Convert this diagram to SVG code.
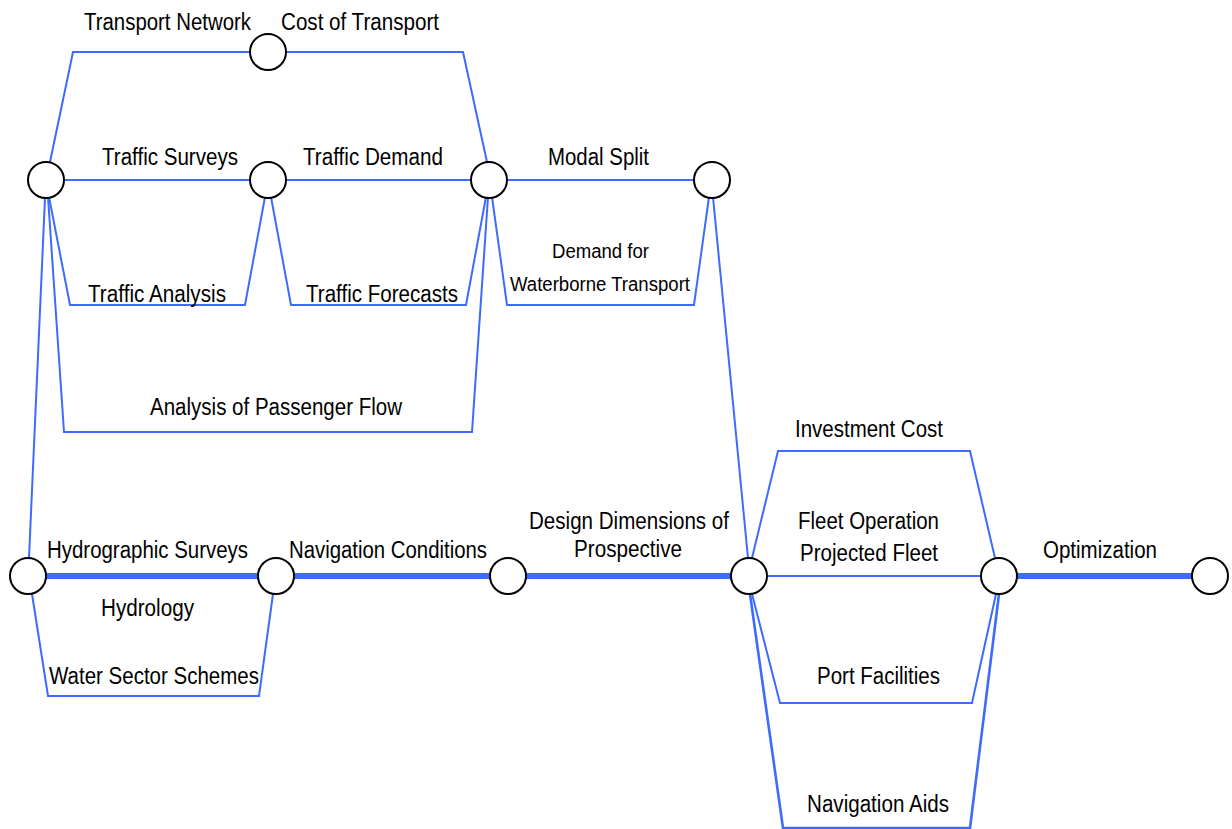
<svg xmlns="http://www.w3.org/2000/svg" width="1232" height="829" viewBox="0 0 1232 829">
<style>
.e{fill:none;stroke:#3d6bff;stroke-width:2;stroke-linejoin:miter}
.t{stroke-width:6}
.w{stroke-width:2.6}
.n{fill:#fff;stroke:#000;stroke-width:2}
text{font-family:"Liberation Sans",Arial,sans-serif;font-size:23px;fill:#000}
.s{font-size:20px}
</style>
<rect width="1232" height="829" fill="#fff"/>
<g id="connectors">
<path class="e" d="M50 162 L73 52 L268 52"/>
<path class="e" d="M268 52 L463 52 L487 162"/>
<path class="e" d="M46 180 L268 180"/>
<path class="e" d="M268 180 L489 180"/>
<path class="e" d="M49 197 L70 305 L245 305 L265 197"/>
<path class="e" d="M271 197 L291 305 L466 305 L486 197"/>
<path class="e" d="M48 197 L64 432 L472 432 L488 197"/>
<path class="e" d="M489 180 L712 180"/>
<path class="e" d="M492 197 L507 305 L694 305 L709 197"/>
<path class="e" d="M713 197 L748 558"/>
<path class="e" d="M45 198 L29 558"/>
<path class="e t" d="M28 576 L276 576"/>
<path class="e" d="M32 594 L48 696 L259 696 L273 594"/>
<path class="e t" d="M276 576 L508 576"/>
<path class="e t" d="M508 576 L749 576"/>
<path class="e" d="M749 576 L999 576"/>
<path class="e" d="M752 558 L778 451 L970 451 L995 558"/>
<path class="e" d="M752 594 L780 703 L972 703 L996 594"/>
<path class="e w" d="M750 594 L783 828 L970 828 L999 594"/>
<path class="e t" d="M999 576 L1210 576"/>
<text x="84" y="30" textLength="167" lengthAdjust="spacingAndGlyphs">Transport Network</text>
<text x="281" y="30" textLength="158" lengthAdjust="spacingAndGlyphs">Cost of Transport</text>
<text x="102" y="165" textLength="136" lengthAdjust="spacingAndGlyphs">Traffic Surveys</text>
<text x="303" y="165" textLength="140" lengthAdjust="spacingAndGlyphs">Traffic Demand</text>
<text x="88" y="302" textLength="138" lengthAdjust="spacingAndGlyphs">Traffic Analysis</text>
<text x="306" y="302" textLength="152" lengthAdjust="spacingAndGlyphs">Traffic Forecasts</text>
<text x="548" y="165" textLength="101" lengthAdjust="spacingAndGlyphs">Modal Split</text>
<text class="s" x="552" y="258" textLength="97" lengthAdjust="spacingAndGlyphs">Demand for</text>
<text class="s" x="510" y="291" textLength="180" lengthAdjust="spacingAndGlyphs">Waterborne Transport</text>
<text x="150" y="415" textLength="252" lengthAdjust="spacingAndGlyphs">Analysis of Passenger Flow</text>
<text x="47" y="558" textLength="201" lengthAdjust="spacingAndGlyphs">Hydrographic Surveys</text>
<text x="289" y="558" textLength="198" lengthAdjust="spacingAndGlyphs">Navigation Conditions</text>
<text x="101" y="616" textLength="93" lengthAdjust="spacingAndGlyphs">Hydrology</text>
<text x="49" y="684" textLength="210" lengthAdjust="spacingAndGlyphs">Water Sector Schemes</text>
<text x="529" y="529" textLength="200" lengthAdjust="spacingAndGlyphs">Design Dimensions of</text>
<text x="574" y="557" textLength="108" lengthAdjust="spacingAndGlyphs">Prospective</text>
<text x="795" y="437" textLength="148" lengthAdjust="spacingAndGlyphs">Investment Cost</text>
<text x="798" y="529" textLength="141" lengthAdjust="spacingAndGlyphs">Fleet Operation</text>
<text x="800" y="561" textLength="138" lengthAdjust="spacingAndGlyphs">Projected Fleet</text>
<text x="1043" y="558" textLength="114" lengthAdjust="spacingAndGlyphs">Optimization</text>
<text x="817" y="684" textLength="123" lengthAdjust="spacingAndGlyphs">Port Facilities</text>
<text x="807" y="812" textLength="142" lengthAdjust="spacingAndGlyphs">Navigation Aids</text>
</g>
<g id="nA"><circle class="n" cx="46" cy="180" r="18"/></g>
<g id="nB"><circle class="n" cx="268" cy="52" r="18"/></g>
<g id="nC"><circle class="n" cx="268" cy="180" r="18"/></g>
<g id="nD"><circle class="n" cx="489" cy="180" r="18"/></g>
<g id="nE"><circle class="n" cx="712" cy="180" r="18"/></g>
<g id="nF"><circle class="n" cx="28" cy="576" r="18"/></g>
<g id="nG"><circle class="n" cx="276" cy="576" r="18"/></g>
<g id="nH"><circle class="n" cx="508" cy="576" r="18"/></g>
<g id="nI"><circle class="n" cx="749" cy="576" r="18"/></g>
<g id="nJ"><circle class="n" cx="999" cy="576" r="18"/></g>
<g id="nK"><circle class="n" cx="1210" cy="576" r="18"/></g>
</svg>
